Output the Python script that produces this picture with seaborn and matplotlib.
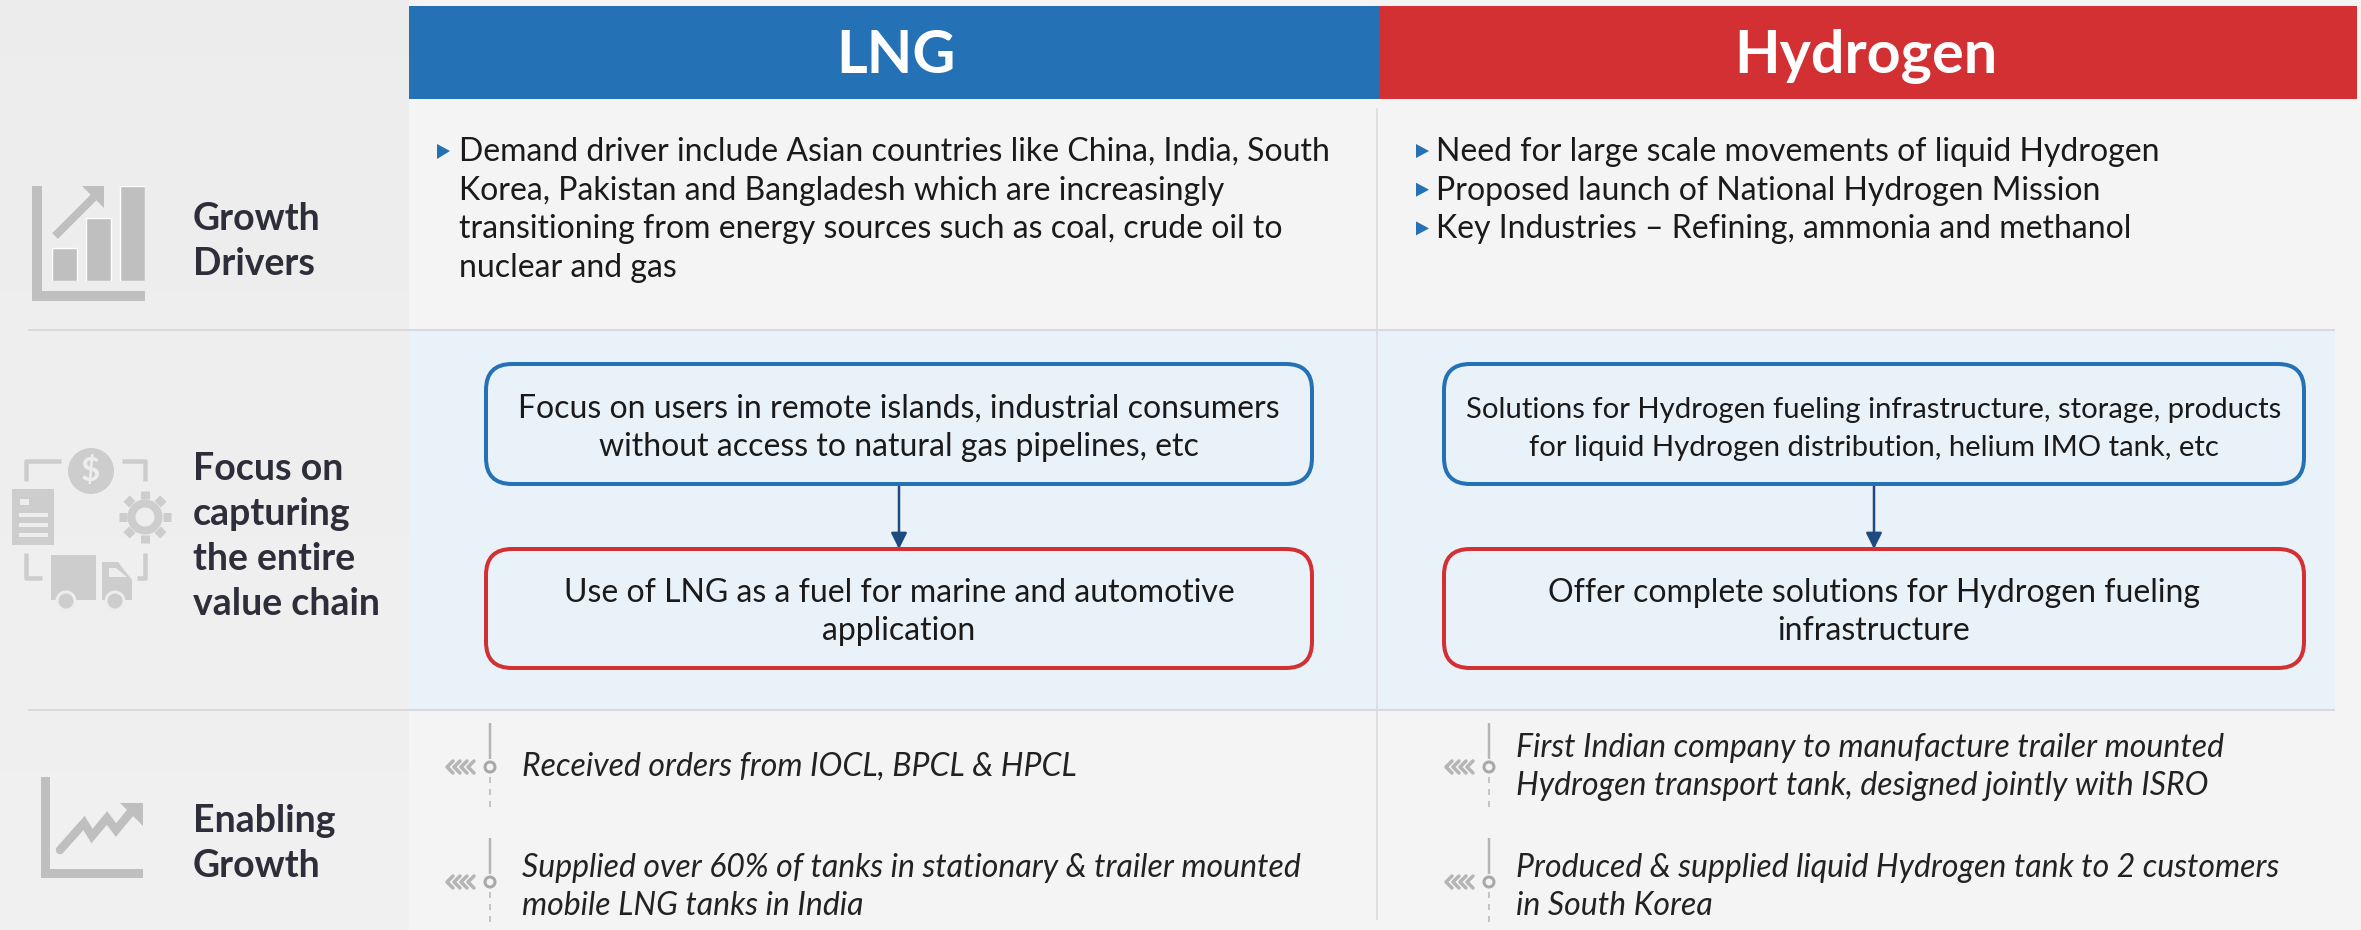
import numpy as np
import matplotlib.pyplot as plt
import seaborn as sns
from matplotlib.patches import Circle, FancyBboxPatch, Polygon, Rectangle

# contenido de la lámina
headers = ["LNG", "Hydrogen"]
row_labels = [["Growth", "Drivers"],
              ["Focus on", "capturing", "the entire", "value chain"],
              ["Enabling", "Growth"]]
lng_drivers = ["Demand driver include Asian countries like China, India, South",
               "Korea, Pakistan and Bangladesh which are increasingly",
               "transitioning from energy sources such as coal, crude oil to",
               "nuclear and gas"]
h2_drivers = ["Need for large scale movements of liquid Hydrogen",
              "Proposed launch of National Hydrogen Mission",
              "Key Industries \u2013 Refining, ammonia and methanol"]
lng_boxes = [["Focus on users in remote islands, industrial consumers",
              "without access to natural gas pipelines, etc"],
             ["Use of LNG as a fuel for marine and automotive", "application"]]
h2_boxes = [["Solutions for Hydrogen fueling infrastructure, storage, products",
             "for liquid Hydrogen distribution, helium IMO tank, etc"],
            ["Offer complete solutions for Hydrogen fueling", "infrastructure"]]
lng_growth = [["Received orders from IOCL, BPCL & HPCL"],
              ["Supplied over 60% of tanks in stationary & trailer mounted",
               "mobile LNG tanks in India"]]
h2_growth = [["First Indian company to manufacture trailer mounted",
              "Hydrogen transport tank, designed jointly with ISRO"],
             ["Produced & supplied liquid Hydrogen tank to 2 customers",
              "in South Korea"]]
icon_bars = [33, 63, 95]

BLUE = "#2471b5"
RED = "#d33033"
NAVY = "#1f4a80"
DARK = "#2e2e3a"
ICON = "#bfbfbf"
ICON2 = "#cdcdcd"
LINE = "#d8d8de"

sns.set_theme(style="white")
plt.rcParams["font.family"] = ["Lato", "DejaVu Sans"]

W, H = 2361, 930
fig = plt.figure(figsize=(W / 100, H / 100), dpi=100)
ax = fig.add_axes([0, 0, 1, 1])
ax.set_xlim(0, W)
ax.set_ylim(H, 0)
ax.axis("off")


def px(v):
    return v * 0.72


def rect(x0, y0, x1, y1, color, z=1):
    ax.add_patch(Rectangle((x0, y0), x1 - x0, y1 - y0, fc=color, ec="none", zorder=z))


def line(xs, ys, color, lw, z=3, **kw):
    ax.plot(xs, ys, color=color, lw=px(lw), zorder=z, solid_capstyle="butt", **kw)


def text(x, y, s, size, color="#1a1a1a", **kw):
    ax.text(x, y, s, fontsize=size, color=color, zorder=6, va="baseline", **kw)


# fondos
rect(0, 0, W, H, "#f4f4f4", 0)
grad = np.linspace(0.925, 0.94, 64).reshape(-1, 1)
ax.imshow(grad, extent=(0, 409, H, 0), cmap="gray", vmin=0, vmax=1, aspect="auto", zorder=1)
ax.set_xlim(0, W)
ax.set_ylim(H, 0)
rect(409, 331, 2335, 710, "#e9f1f9", 1)

# cabeceras
rect(409, 6, 1380, 99, BLUE, 2)
rect(1380, 6, 2357, 99, RED, 2)
for cx, h in zip([896, 1866], headers):
    ax.text(cx, 73, h, fontsize=42.7, color="white", fontweight="bold", ha="center",
            va="baseline", zorder=6)

# separadores
line([28, 2335], [330.5, 330.5], LINE, 2)
line([28, 2335], [710, 710], LINE, 2)
line([1377, 1377], [108, 920], LINE, 1.5)

# etiquetas de fila
for lines, base in zip(row_labels, [[230, 275], [480, 525, 570, 615], [832, 877]]):
    for s, y in zip(lines, base):
        text(193, y, s, 27, DARK, fontweight="bold")

# viñetas
for i, s in enumerate(lng_drivers):
    text(459, 161 + i * 38.7, s, 23.05)
ax.add_patch(Polygon([(437, 144), (450, 151), (437, 159)], fc=BLUE, ec="none", zorder=5))
for i, s in enumerate(h2_drivers):
    text(1436, 161 + i * 38.7, s, 23.05)
    yc = 151 + i * 38.7
    ax.add_patch(Polygon([(1416, yc - 7), (1429, yc), (1416, yc + 7)], fc=BLUE, ec="none", zorder=5))


# cajas con flecha
def boxes(x0, x1, content, size):
    cx = (x0 + x1) / 2
    for (y0, y1, color), lines in zip([(364, 484, BLUE), (549, 668, RED)], content):
        ax.add_patch(FancyBboxPatch((x0, y0), x1 - x0, y1 - y0,
                                    boxstyle="round,pad=0,rounding_size=26",
                                    fc="none", ec=color, lw=px(4), zorder=4))
    text(cx, 418, content[0][0], size[0], ha="center")
    text(cx, 456, content[0][1], size[0], ha="center")
    text(cx, 601.5, content[1][0], size[1], ha="center")
    text(cx, 640, content[1][1], size[1], ha="center")
    ax.annotate("", xy=(cx, 549), xytext=(cx, 484), zorder=3,
                arrowprops=dict(arrowstyle="-|>", color=NAVY, lw=px(2.5),
                                mutation_scale=24, shrinkA=0, shrinkB=0))


boxes(486, 1312, lng_boxes, (23.05, 23.05))
boxes(1444, 2304, h2_boxes, (21.1, 23.05))


# marcadores de la línea de tiempo
def marker(x, yc):
    line([x, x], [yc - 44, yc - 8], "#b5b5b5", 2.5)
    line([x, x], [yc + 10, yc + 44], "#b5b5b5", 1.5, ls=(0, (4, 4)))
    ax.add_patch(Circle((x, yc), 5, fc="none", ec="#a8a8a8", lw=px(3), zorder=4))
    for k in range(4):
        xc = x - 43 + k * 7
        ax.plot([xc + 6, xc, xc + 6], [yc - 6, yc, yc + 6], color="#b5b5b5", lw=px(3.5), zorder=3)


for x, tx, groups in [(490, 522, lng_growth), (1489, 1516, h2_growth)]:
    for yc, lines, bases in zip([767, 882], groups,
                                [[775.5] if len(groups[0]) == 1 else [757, 795], [877, 915]]):
        marker(x, yc)
        for s, y in zip(lines, bases):
            text(tx, y, s, 23.05, "#222222", style="italic")

# icono 1: gráfico de barras
rect(32, 186, 42, 301, ICON, 3)
rect(32, 291, 145, 301, ICON, 3)
iax = fig.add_axes([52 / W, 1 - 281 / H, 93 / W, 95 / H])
sns.barplot(x=[0, 1, 2], y=icon_bars, color=ICON, saturation=1, width=0.73, ax=iax)
iax.set_ylim(0, 95)
iax.set_xlim(-0.365, 2.365)
iax.axis("off")
iax.patch.set_alpha(0)
line([55, 96], [236, 195], ICON, 8)
ax.add_patch(Polygon([(82, 186), (104, 186), (104, 208)], fc=ICON, ec="none", zorder=3))

# icono 2: cadena de valor
for xs, ys in [((26, 26, 61), (481, 461, 461)), ((122, 145, 145), (461, 461, 481)),
               ((26, 26, 42), (553, 578, 578)), ((137, 145, 145), (578, 578, 553))]:
    line(xs, ys, ICON2, 4.5)
ax.add_patch(Circle((91, 471), 23, fc=ICON2, ec="none", zorder=3))
ax.text(91, 471, "$", fontsize=24, color="#ededed", ha="center", va="center",
        fontweight="bold", zorder=4)
rect(12, 489, 54, 545, ICON2, 3)
for y in [515, 525, 535]:
    line([19, 48], [y, y], "#ededed", 4, z=4)
rect(20, 499, 29, 505, "#ededed", 4)
for a in np.arange(0, 360, 45):
    r = np.radians(a)
    ax.plot([145 + 18 * np.cos(r), 145 + 26 * np.cos(r)],
            [517 + 18 * np.sin(r), 517 + 26 * np.sin(r)],
            color=ICON2, lw=px(9), solid_capstyle="butt", zorder=3)
ax.add_patch(Circle((145, 517), 13.5, fc="none", ec=ICON2, lw=px(8), zorder=3))
rect(51, 555, 96, 600, ICON2, 3)
ax.add_patch(Polygon([(102, 562), (118, 562), (132, 580), (132, 600), (102, 600)],
                     fc=ICON2, ec="none", zorder=3))
ax.add_patch(Polygon([(109, 568), (116, 568), (127, 577), (109, 577)],
                     fc="#ededed", ec="none", zorder=4))
for x in [66, 115]:
    ax.add_patch(Circle((x, 601), 9, fc=ICON2, ec="#ededed", lw=px(3), zorder=4))

# icono 3: tendencia
rect(41, 777, 50, 878, ICON, 3)
rect(41, 869, 143, 878, ICON, 3)
ax.plot([60, 84, 92, 107, 116, 130], [850, 823, 836, 818, 830, 813],
        color=ICON, lw=px(8.5), solid_joinstyle="miter", zorder=3)
ax.add_patch(Polygon([(120, 803), (143, 803), (143, 826)], fc=ICON, ec="none", zorder=3))

fig.savefig("out.png", dpi=100)
